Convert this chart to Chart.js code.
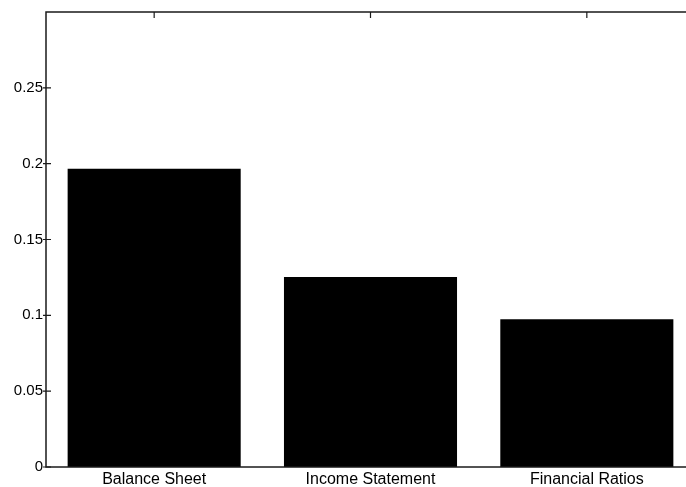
<!DOCTYPE html>
<html>
<head>
<meta charset="utf-8">
<script src="https://cdn.jsdelivr.net/npm/chart.js@4/dist/chart.umd.min.js"></script>
<style>
    html, body { margin: 0; padding: 0; background: #fff; overflow: hidden; width: 686px; height: 487px; }
    #frame { position: relative; width: 686px; height: 487px; overflow: hidden; }
    #wrap { position: absolute; left: 0; top: 0; width: 700px; height: 487px; }
</style>
</head>
<body>
<div id="frame"><div id="wrap"><canvas id="barChart"></canvas></div></div>
<script>
// values
const categories = ['Balance Sheet', 'Income Statement', 'Financial Ratios'];
const shares = [0.1967, 0.1252, 0.0974];
const yTicks = [0, 0.05, 0.1, 0.15, 0.2, 0.25];

const axisColor = '#1a1a1a';

// MATLAB style box with inward tick marks
const boxAxes = {
    id: 'boxAxes',
    afterDraw(chart) {
        const { ctx, chartArea: a, scales } = chart;
        ctx.save();
        ctx.strokeStyle = axisColor;
        ctx.lineWidth = 1.5;
        ctx.strokeRect(a.left, a.top, a.right - a.left, a.bottom - a.top);
        ctx.lineWidth = 1.2;
        ctx.beginPath();
        yTicks.forEach(v => {
            const y = scales.y.getPixelForValue(v);
            ctx.moveTo(a.left - 3, y); ctx.lineTo(a.left + 5, y);
            ctx.moveTo(a.right - 5, y); ctx.lineTo(a.right, y);
        });
        categories.forEach((c, i) => {
            const x = scales.x.getPixelForValue(i);
            ctx.moveTo(x, a.top); ctx.lineTo(x, a.top + 6);
        });
        ctx.stroke();
        ctx.restore();
    }
};

new Chart(document.getElementById('barChart'), {
    type: 'bar',
    data: {
        labels: categories,
        datasets: [{
            data: shares,
            backgroundColor: '#000',
            borderWidth: 0,
            categoryPercentage: 0.8,
            barPercentage: 1
        }]
    },
    options: {
        responsive: true,
        maintainAspectRatio: false,
        animation: false,
        layout: { padding: { top: 10, right: 5, left: 0, bottom: 0 } },
        plugins: { legend: { display: false }, tooltip: { enabled: false } },
        scales: {
            x: {
                grid: { display: false, drawTicks: false },
                border: { display: false },
                ticks: { color: '#000', padding: 3, font: { family: 'Liberation Sans', size: 16 } },
                afterFit(scale) { scale.height = 20; }
            },
            y: {
                min: 0,
                max: 0.3,
                grid: { display: false, drawTicks: false },
                border: { display: false },
                ticks: {
                    stepSize: 0.05,
                    color: '#000',
                    padding: 3,
                    font: { family: 'Liberation Sans', size: 15 },
                    callback: v => (Math.abs(v - 0.3) < 1e-9 ? '' : String(Number(v.toFixed(2))))
                },
                afterFit(scale) { scale.width = 46; }
            }
        }
    },
    plugins: [boxAxes]
});
</script>
</body>
</html>
